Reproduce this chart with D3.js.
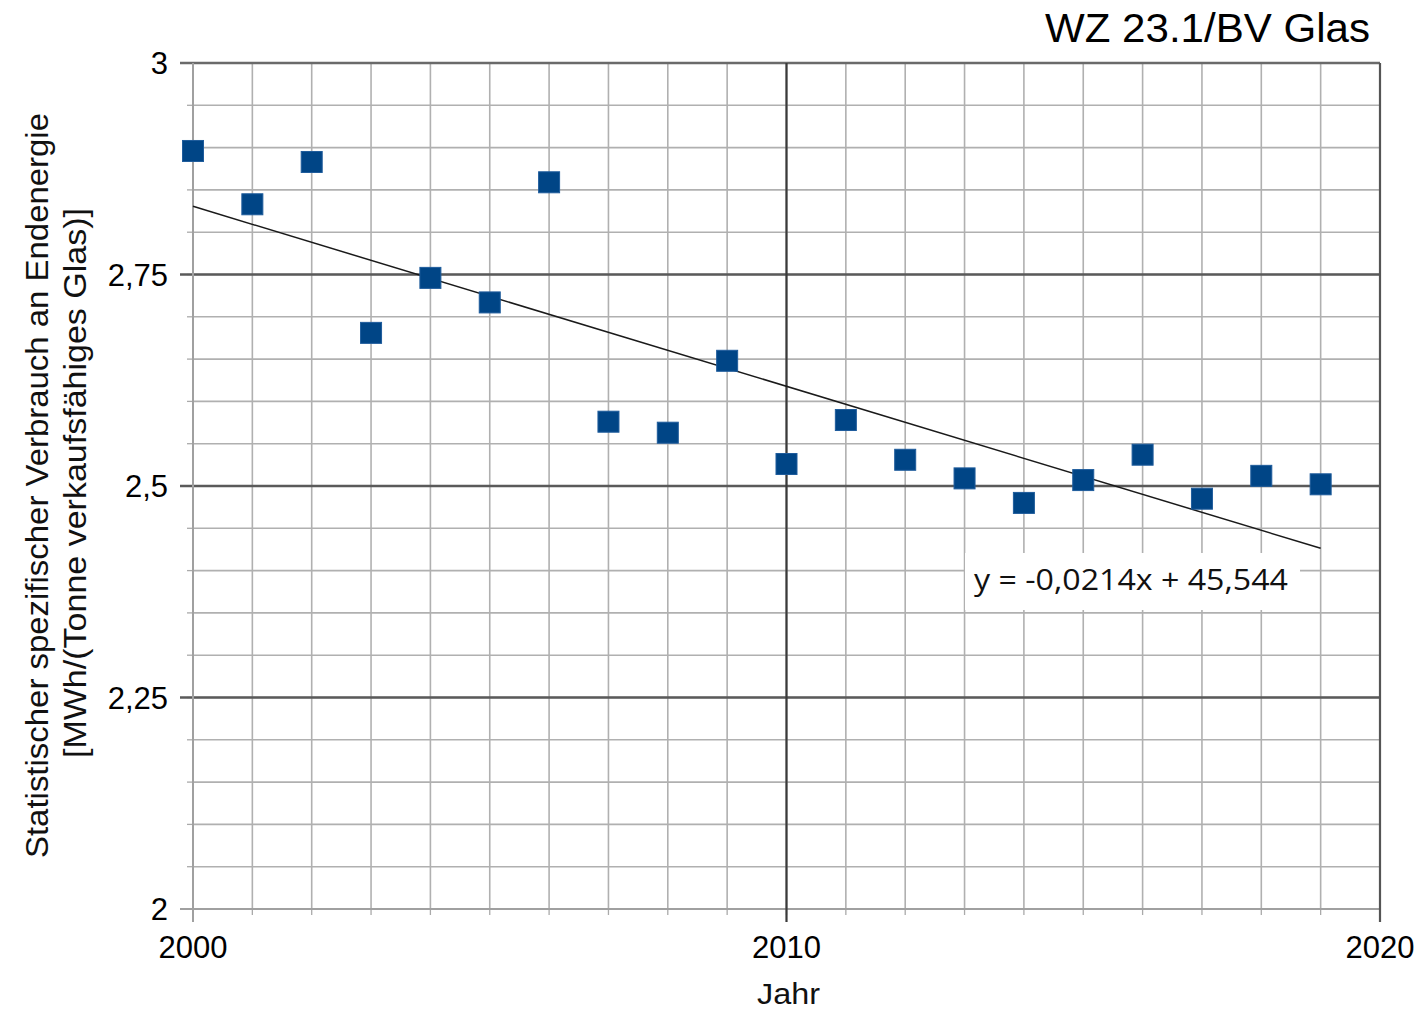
<!DOCTYPE html>
<html><head><meta charset="utf-8">
<script src="https://cdn.jsdelivr.net/npm/d3@7"></script>
<style>body{margin:0;background:#fff}svg{display:block}</style>
</head><body>
<svg id="c" width="1421" height="1013"></svg>
<script>
const years = [2000,2001,2002,2003,2004,2005,2006,2007,2008,2009,2010,2011,2012,2013,2014,2015,2016,2017,2018,2019];
const values = [2.896,2.833,2.883,2.681,2.746,2.717,2.859,2.576,2.563,2.648,2.526,2.578,2.531,2.509,2.480,2.507,2.537,2.485,2.512,2.502];
const xTicks = [2000,2010,2020];
const yTicks = [2,2.25,2.5,2.75,3];
const yTickLabels = ["2","2,25","2,5","2,75","3"];
const title = "WZ 23.1/BV Glas";
const xTitle = "Jahr";
const yTitle = ["Statistischer spezifischer Verbrauch an Endenergie","[MWh/(Tonne verkaufsfähiges Glas)]"];
const equation = "y = -0,0214x + 45,544";

const svg = d3.select("#c");
const L=193, R=1380, T=63, B=909;
const x = d3.scaleLinear().domain([2000,2020]).range([L,R]);
const y = d3.scaleLinear().domain([2,3]).range([B,T]);
const font = "'Liberation Sans', Arial, sans-serif";

// minor grid
const minorX = d3.range(2000,2021,1);
const minorY = d3.range(0,21).map(i=>+(2+i*0.05).toFixed(2));
const g = svg.append("g");
g.selectAll(".vx").data(minorX).join("line")
  .attr("x1",d=>x(d)).attr("x2",d=>x(d)).attr("y1",T).attr("y2",B)
  .attr("stroke","#b0b0b0").attr("stroke-width",1.6);
g.selectAll(".hy").data(minorY).join("line")
  .attr("y1",d=>y(d)).attr("y2",d=>y(d)).attr("x1",L).attr("x2",R)
  .attr("stroke","#b0b0b0").attr("stroke-width",1.6);
// minor ticks
g.selectAll(".ty").data(minorY).join("line")
  .attr("y1",d=>y(d)).attr("y2",d=>y(d)).attr("x1",L-6).attr("x2",L)
  .attr("stroke","#aaa").attr("stroke-width",1.3);
g.selectAll(".tx").data(minorX).join("line")
  .attr("x1",d=>x(d)).attr("x2",d=>x(d)).attr("y1",B).attr("y2",B+6)
  .attr("stroke","#aaa").attr("stroke-width",1.3);

// white box behind equation
svg.append("rect").attr("x",965).attr("y",553).attr("width",335).attr("height",57).attr("fill","#fff");

// major grid
svg.selectAll(".my").data([2.25,2.5,2.75]).join("line")
  .attr("y1",d=>y(d)).attr("y2",d=>y(d)).attr("x1",L-13).attr("x2",R)
  .attr("stroke","#5a5a5a").attr("stroke-width",2.4);
svg.append("line").attr("x1",L-13).attr("x2",R).attr("y1",y(3)).attr("y2",y(3)).attr("stroke","#6a6a6a").attr("stroke-width",2.4);
svg.append("line").attr("x1",L-13).attr("x2",R).attr("y1",y(2)).attr("y2",y(2)).attr("stroke","#a0a0a0").attr("stroke-width",2);
svg.append("line").attr("x1",x(2010)).attr("x2",x(2010)).attr("y1",T).attr("y2",B+13).attr("stroke","#3a3a3a").attr("stroke-width",2.2);
svg.append("line").attr("x1",x(2020)).attr("x2",x(2020)).attr("y1",T).attr("y2",B+13).attr("stroke","#555").attr("stroke-width",2.2);
svg.append("line").attr("x1",x(2000)).attr("x2",x(2000)).attr("y1",T).attr("y2",B+13).attr("stroke","#a0a0a0").attr("stroke-width",2);

// tick labels
svg.selectAll(".yl").data(yTicks).join("text")
  .attr("x",L-25).attr("y",d=>y(d)+11).attr("text-anchor","end")
  .attr("font-family",font).attr("font-size",31).attr("fill","#000")
  .text((d,i)=>yTickLabels[i]);
svg.selectAll(".xl").data(xTicks).join("text")
  .attr("x",d=>x(d)).attr("y",958).attr("text-anchor","middle")
  .attr("font-family",font).attr("font-size",31).attr("fill","#000")
  .text(d=>d);

// trend line (least squares fit)
const n=years.length, mx=d3.mean(years), my=d3.mean(values);
let sxy=0,sxx=0; years.forEach((v,i)=>{sxy+=(v-mx)*(values[i]-my); sxx+=(v-mx)*(v-mx);});
const slope=sxy/sxx, icpt=my-slope*mx;
const x0=years[0], x1=years[n-1];
svg.append("line").attr("x1",x(x0)).attr("x2",x(x1)).attr("y1",y(icpt+slope*x0)).attr("y2",y(icpt+slope*x1))
  .attr("stroke","#1a1a1a").attr("stroke-width",1.5);

// markers
const s=21;
svg.selectAll(".pt").data(years).join("rect")
  .attr("x",d=>x(d)-s/2).attr("y",(d,i)=>y(values[i])-s/2).attr("width",s).attr("height",s)
  .attr("fill","#004586").attr("stroke","#1f5c9c").attr("stroke-width",1);

// equation
svg.append("text").attr("x",974).attr("y",590).attr("font-family","'Open Sans', Calibri, sans-serif")
  .attr("font-size",29).attr("fill","#111")
  .attr("textLength",314).attr("lengthAdjust","spacingAndGlyphs").text(equation);

// titles
svg.append("text").attr("x",1045).attr("y",42).attr("font-family",font)
  .attr("font-size",40).attr("fill","#000")
  .attr("textLength",325).attr("lengthAdjust","spacingAndGlyphs").text(title);
svg.append("text").attr("x",757).attr("y",1004).attr("font-family",font)
  .attr("font-size",30).attr("fill","#111")
  .attr("textLength",63).attr("lengthAdjust","spacingAndGlyphs").text(xTitle);
const cy=(113+858)/2;
const yt = svg.append("g").attr("transform",`translate(0,${cy}) rotate(-90)`);
yt.append("text").attr("x",-745/2).attr("y",48).attr("font-family",font).attr("font-size",31).attr("fill","#111")
  .attr("textLength",745).attr("lengthAdjust","spacingAndGlyphs").text(yTitle[0]);
yt.append("text").attr("x",cy-758).attr("y",86).attr("font-family",font).attr("font-size",31).attr("fill","#111")
  .attr("textLength",550).attr("lengthAdjust","spacingAndGlyphs").text(yTitle[1]);
</script>
</body></html>
